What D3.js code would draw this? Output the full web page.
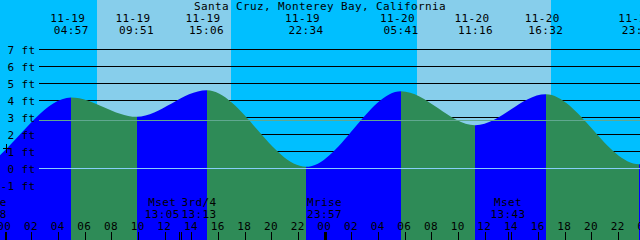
<!DOCTYPE html>
<html><head><meta charset="utf-8">
<script src="https://cdn.jsdelivr.net/npm/d3@7"></script>
<style>
html,body{margin:0;padding:0;background:#00bfff;overflow:hidden;}
svg{display:block;}
text{font-family:"DejaVu Sans Mono",monospace;font-size:11px;letter-spacing:0.38px;fill:#000;}
</style></head><body>
<svg id="chart" width="640" height="240"></svg>
<script>
// ---------------- data ----------------
const title = "Santa Cruz, Monterey Bay, California";
// tide extremes (first two and last lie outside the picture)
const tideTimes   = ["2000-11-18T15:20","2000-11-18T21:15","2000-11-19T04:57","2000-11-19T09:51","2000-11-19T15:06",
                     "2000-11-19T22:34","2000-11-20T05:41","2000-11-20T11:16","2000-11-20T16:32","2000-11-20T23:33","2000-11-21T06:25"];
const tideHeights = [4.5, -0.2, 4.18, 3.04, 4.6, 0.1, 4.55, 2.55, 4.37, 0.25, 4.5];
// daylight
const sunriseTimes = ["2000-11-19T06:53","2000-11-20T06:53"];
const sunsetTimes  = ["2000-11-19T16:56","2000-11-20T16:56"];
// moon events
const moonNames = ["Mrise","Mset","3rd/4","Mrise","Mset"];
const moonTimes = ["2000-11-18T22:48","2000-11-19T13:05","2000-11-19T13:13","2000-11-19T23:57","2000-11-20T13:43"];
// axis
const yTickValues = [-1,0,1,2,3,4,5,6,7];
const mslHeight = 2.82;
const datumHeight = 0;
const timeDomain = ["2000-11-19T00:00","2000-11-21T00:00"];

// ---------------- drawing ----------------
const W = 640, H = 240;
const parse = d3.utcParse("%Y-%m-%dT%H:%M");
const fmtDate = d3.utcFormat("%m-%d");
const fmtTime = d3.utcFormat("%H:%M");
const fmtHour = d3.utcFormat("%H");
const C = {night:"#00bfff", day:"#87ceeb", rise:"#0000ff", fall:"#2e8b57",
           grid:"#000", msl:"#60a890", datum:"#87cefa"};

const x = d3.scaleUtc().domain(timeDomain.map(parse)).range([5.2, 645.2]);
const y = d3.scaleLinear().domain([0, 7]).range([168.5, 49.5]);

const svg = d3.select("#chart");
const defs = svg.append("defs");

// background night / day
svg.append("rect").attr("x",0).attr("y",0).attr("width",W).attr("height",H).attr("fill",C.night);
svg.append("g").selectAll("rect").data(sunriseTimes.map((s,i)=>[parse(s),parse(sunsetTimes[i])]))
  .join("rect")
  .attr("x", d=>Math.round(x(d[0])))
  .attr("width", d=>Math.round(x(d[1]))-Math.round(x(d[0])))
  .attr("y",0).attr("height",H).attr("fill",C.day);

// grid lines (behind water)
const gridX0 = 39;
svg.append("g").attr("shape-rendering","crispEdges").selectAll("line")
  .data(yTickValues.filter(v=>v!==datumHeight))
  .join("line")
  .attr("x1",gridX0).attr("x2",W)
  .attr("y1",d=>y(d)).attr("y2",d=>y(d))
  .attr("stroke",C.grid).attr("stroke-width",1);

// tide water
const pts = tideTimes.map((t,i)=>({t:parse(t), h:tideHeights[i]}));
const area = d3.area().x(d=>x(d.t)).y0(H).y1(d=>y(d.h)).curve(d3.curveMonotoneX);
const areaPath = area(pts);
const water = svg.append("g");
for (let i=0;i<pts.length-1;i++){
  const x0 = Math.round(x(pts[i].t)), x1 = Math.round(x(pts[i+1].t));
  const id = "seg"+i;
  defs.append("clipPath").attr("id",id).append("rect")
    .attr("x",x0).attr("width",x1-x0).attr("y",0).attr("height",H);
  water.append("path").attr("d",areaPath).attr("clip-path",`url(#${id})`)
    .attr("fill", pts[i+1].h > pts[i].h ? C.rise : C.fall);
}

// msl and datum lines
svg.append("line").attr("x1",gridX0).attr("x2",W).attr("y1",y(mslHeight)).attr("y2",y(mslHeight))
  .attr("stroke",C.msl).attr("shape-rendering","crispEdges");
svg.append("line").attr("x1",gridX0).attr("x2",W).attr("y1",y(datumHeight)).attr("y2",y(datumHeight))
  .attr("stroke",C.datum).attr("shape-rendering","crispEdges");

// y labels
svg.append("g").selectAll("text").data(yTickValues).join("text")
  .attr("x",35.5).attr("y",d=>y(d)+4).attr("text-anchor","end")
  .text(d=>d+" ft");
// small plus mark by the 1 ft label
const pm = y(1)-3;
svg.append("path").attr("d",`M3,${pm}H10M6.5,${pm-4.5}V${pm+4.5}`)
  .attr("stroke","#000").attr("stroke-width",1).attr("shape-rendering","crispEdges");

// title
svg.append("text").attr("x",W/2).attr("y",9.5).attr("text-anchor","middle").text(title);

// tide event labels on top (only events inside the picture)
const topG = svg.append("g");
pts.filter(p=>{const px=x(p.t); return px>=0 && px<=W;}).forEach(p=>{
  const px = x(p.t);
  topG.append("text").attr("x",px-3.5).attr("y",21.5).attr("text-anchor","middle").text(fmtDate(p.t));
  topG.append("text").attr("x",px).attr("y",33.5).attr("text-anchor","middle").text(fmtTime(p.t));
});

// bottom hour ticks & labels
const hours = x.ticks(d3.utcHour.every(2));
const bottomG = svg.append("g").attr("shape-rendering","crispEdges");
hours.forEach(h=>{
  const px = x(h);
  const midnight = h.getUTCHours()===0;
  bottomG.append("rect").attr("x",Math.floor(px)-(midnight?0.5:0)).attr("y",232)
    .attr("width",midnight?2:1).attr("height",8).attr("fill","#000");
  svg.append("text").attr("x",px-0.9).attr("y",229.5).attr("text-anchor","middle").text(fmtHour(h));
});

// moon events
const charW = 7;
const moon = moonNames.map((n,i)=>{
  const t = parse(moonTimes[i]);
  const label = fmtTime(t);
  return {name:n, t, px:x(t), label, w:Math.max(n.length,label.length)*charW};
}).sort((a,b)=>a.px-b.px);
moon.forEach(m=>m.cx=m.px);
for (let i=1;i<moon.length;i++){
  const a = moon[i-1], b = moon[i];
  if (a.cx + a.w/2 > b.cx - b.w/2){
    const mid = (a.px+b.px)/2;
    a.cx = mid - 0.85 - a.w/2;
    b.cx = mid + 0.85 + b.w/2;
  }
}
moon.forEach(m=>{
  if (m.px>=0 && m.px<=W)
    bottomG.append("rect").attr("x",Math.floor(m.px)).attr("y",232).attr("width",1).attr("height",8).attr("fill","#000");
  svg.append("text").attr("x",m.cx).attr("y",206).attr("text-anchor","middle").text(m.name);
  svg.append("text").attr("x",m.cx).attr("y",217.5).attr("text-anchor","middle").text(m.label);
});
</script>
</body></html>
